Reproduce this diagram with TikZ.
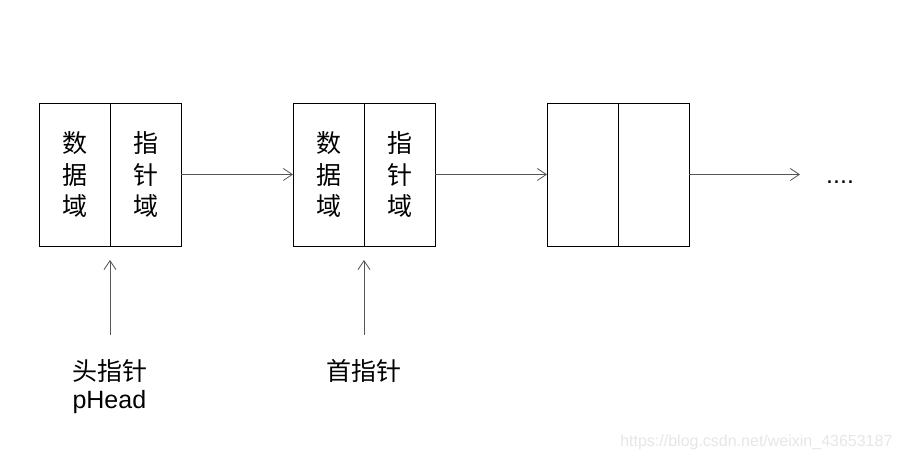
\documentclass[tikz,border=0pt]{standalone}
\usepackage{fontspec}
\setmainfont{Liberation Sans}
\newfontfamily\cjk{Noto Sans CJK SC}
\usetikzlibrary{arrows.meta,positioning}
\definecolor{arrowgray}{RGB}{85,85,85}
\definecolor{markgray}{RGB}{230,230,230}

\begin{document}
\begin{tikzpicture}[x=1pt,y=1pt,>={Straight Barb[length=9pt,width=12pt]},
  node distance=112pt,
  cell/.style={draw,line width=0.9pt,outer sep=0pt,minimum width=71pt,
               minimum height=143pt,inner sep=0pt,align=center,
               font=\cjk\fontsize{25}{31.5}\selectfont},
  link/.style={->,draw=arrowgray,line width=0.8pt},
  tag/.style={inner sep=0pt,align=left,font=\fontsize{25}{28}\selectfont}]
\useasboundingbox (0,0) rectangle (906,460);
\node[cell] (data1) at (74.5,285.5) {数\\据\\域};
\node[cell,right=0pt of data1] (next1) {指\\针\\域};
\node[cell,right=of next1] (data2) {数\\据\\域};
\node[cell,right=0pt of data2] (next2) {指\\针\\域};
\node[cell,right=of next2] (data3) {};
\node[cell,right=0pt of data3] (next3) {};
\coordinate[right=111pt of next3] (tail);
\node[tag,right=26pt of tail,yshift=-7.5pt] (dots) {....};

\draw[link] (next1)--(data2); \draw[link] (next2)--(data3);
\draw[link] (next3)--(tail);

% pointers into the list
\node[tag,below=113pt of data1.south east] (head) {{\cjk 头指针}\\pHead};
\node[tag,below=113pt of data2.south east,font=\cjk\fontsize{25}{28}\selectfont] (first) {首指针};
\draw[link,shorten <=24pt,shorten >=14pt] (head.north)--(data1.south east);
\draw[link,shorten <=24pt,shorten >=14pt] (first.north)--(data2.south east);

\node[anchor=base east,text=markgray,font=\fontsize{16}{16}\selectfont] (mark) at (896,13)
  {https://blog.csdn.net/weixin\_43653187};
\end{tikzpicture}
\end{document}
